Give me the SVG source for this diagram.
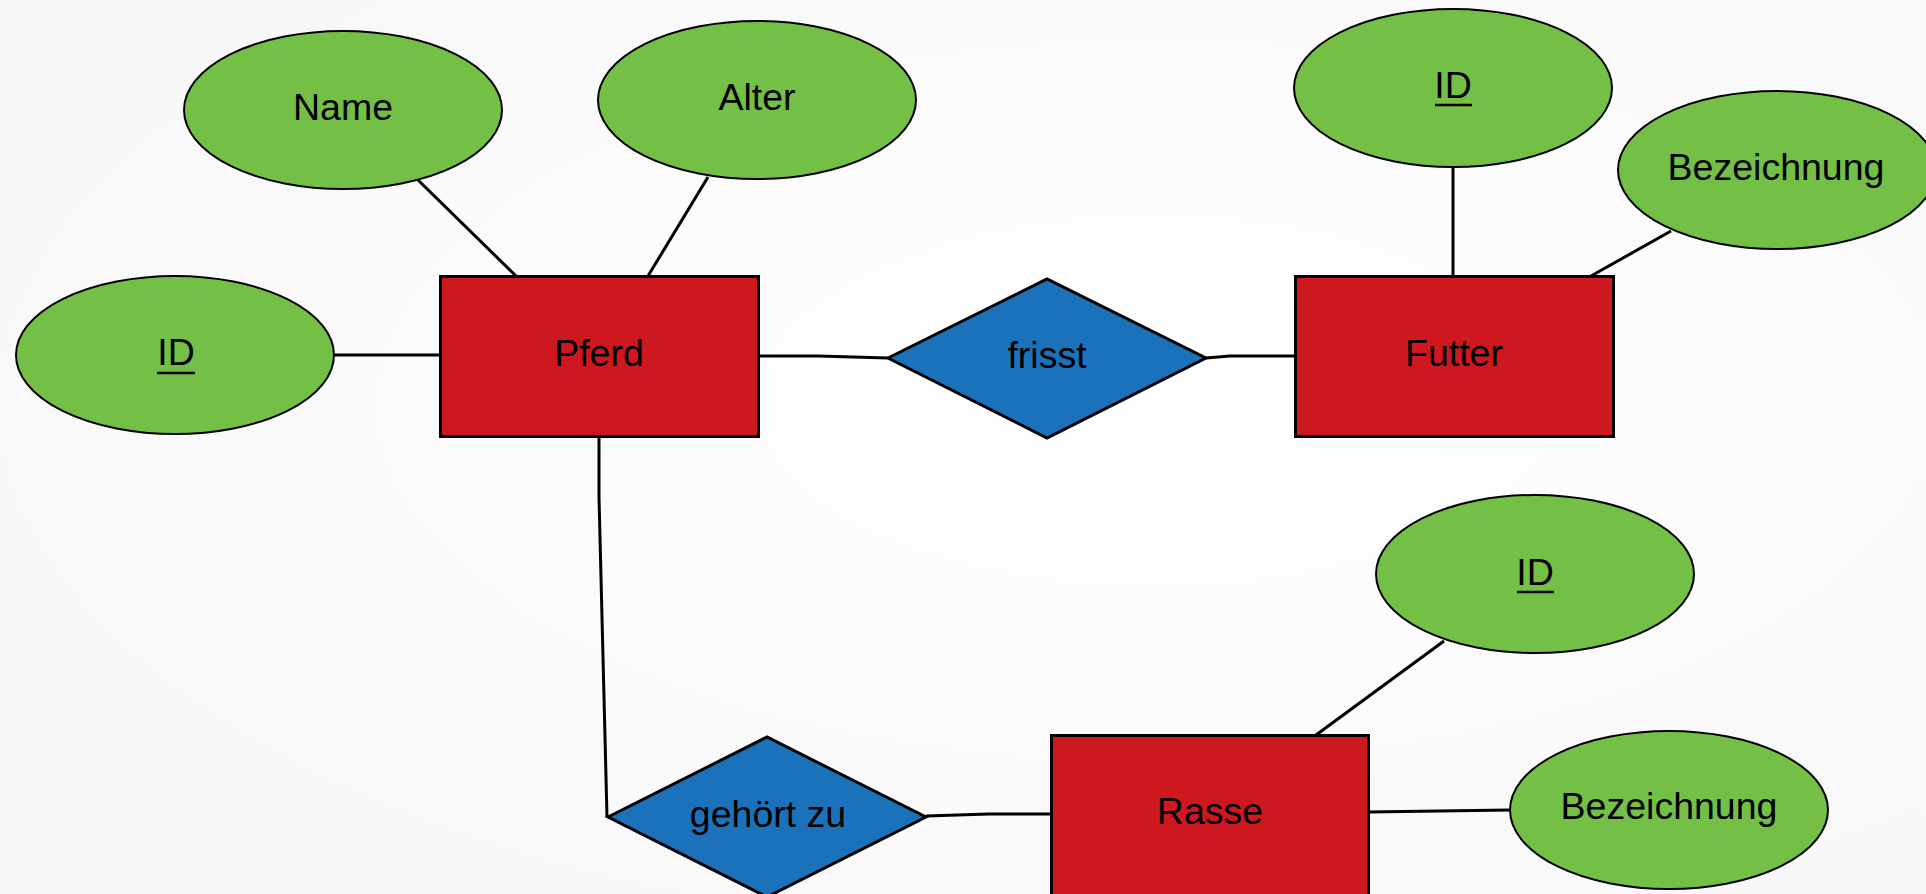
<svg xmlns="http://www.w3.org/2000/svg" width="1926" height="894" viewBox="0 0 1926 894">
<defs>
<radialGradient id="bg" cx="0.6" cy="0.45" r="0.7">
<stop offset="0" stop-color="#ffffff"/>
<stop offset="1" stop-color="#f7f7f7"/>
</radialGradient>
<style>
.attr{fill:#74bf46;stroke:#000;stroke-width:2}
.ent{fill:#cc181e;stroke:#000;stroke-width:3}
.rel{fill:#1b72ba;stroke:#000;stroke-width:3;stroke-linejoin:miter}
.lbl{font-family:"Liberation Sans",Arial,sans-serif;font-size:37.5px;fill:#000;text-anchor:middle}
.ul{stroke:#000;stroke-width:2.5}
.conn{fill:none;stroke:#000;stroke-width:3}
</style>
</defs>
<rect x="0" y="0" width="1926" height="894" fill="url(#bg)"/>
<g id="connectors">
<line class="conn" x1="335" y1="355" x2="440" y2="355"/>
<line class="conn" x1="418" y1="180" x2="516" y2="276"/>
<line class="conn" x1="708" y1="177" x2="648" y2="276"/>
<polyline class="conn" points="759,356 818,356 888,358"/>
<polyline class="conn" points="1206,358 1230,356 1295,356"/>
<line class="conn" x1="1453" y1="167" x2="1453" y2="276"/>
<line class="conn" x1="1671" y1="231" x2="1591" y2="276"/>
<polyline class="conn" points="599,437 599,497 607,817"/>
<polyline class="conn" points="926,816 989,814 1051,814"/>
<line class="conn" x1="1444" y1="641" x2="1316" y2="735"/>
<line class="conn" x1="1368" y1="812" x2="1510" y2="810"/>
</g>
<g id="pferd_name">
<ellipse class="attr" cx="343" cy="110" rx="159" ry="79"/>
<text class="lbl" x="343" y="120">Name</text>
</g>
<g id="pferd_alter">
<ellipse class="attr" cx="757" cy="100" rx="159" ry="79"/>
<text class="lbl" x="757" y="110">Alter</text>
</g>
<g id="pferd_id">
<ellipse class="attr" cx="175" cy="355" rx="159" ry="79"/>
<text class="lbl" x="176" y="365">ID</text>
<line class="ul" x1="157" y1="373" x2="195" y2="373"/>
</g>
<g id="pferd">
<rect class="ent" x="440.5" y="276.5" width="318" height="160"/>
<text class="lbl" x="599" y="366">Pferd</text>
</g>
<g id="frisst">
<polygon class="rel" points="888,358 1047,279 1206,358 1047,438"/>
<text class="lbl" x="1047" y="368">frisst</text>
</g>
<g id="futter_id">
<ellipse class="attr" cx="1453" cy="88" rx="159" ry="79"/>
<text class="lbl" x="1453" y="98">ID</text>
<line class="ul" x1="1435" y1="105" x2="1472" y2="105"/>
</g>
<g id="futter_bezeichnung">
<ellipse class="attr" cx="1777" cy="170" rx="159" ry="79"/>
<text class="lbl" x="1776" y="180">Bezeichnung</text>
</g>
<g id="futter">
<rect class="ent" x="1295.5" y="276.5" width="318" height="160"/>
<text class="lbl" x="1454" y="366">Futter</text>
</g>
<g id="gehoert_zu">
<polygon class="rel" points="608,817 767,737 926,817 767,897"/>
<text class="lbl" x="768" y="827">gehört zu</text>
</g>
<g id="rasse">
<rect class="ent" x="1051.5" y="735.5" width="317" height="160"/>
<text class="lbl" x="1210" y="824">Rasse</text>
</g>
<g id="rasse_id">
<ellipse class="attr" cx="1535" cy="574" rx="159" ry="79"/>
<text class="lbl" x="1535" y="585">ID</text>
<line class="ul" x1="1517" y1="592" x2="1554" y2="592"/>
</g>
<g id="rasse_bezeichnung">
<ellipse class="attr" cx="1669" cy="810" rx="159" ry="79"/>
<text class="lbl" x="1669" y="819">Bezeichnung</text>
</g>
</svg>
